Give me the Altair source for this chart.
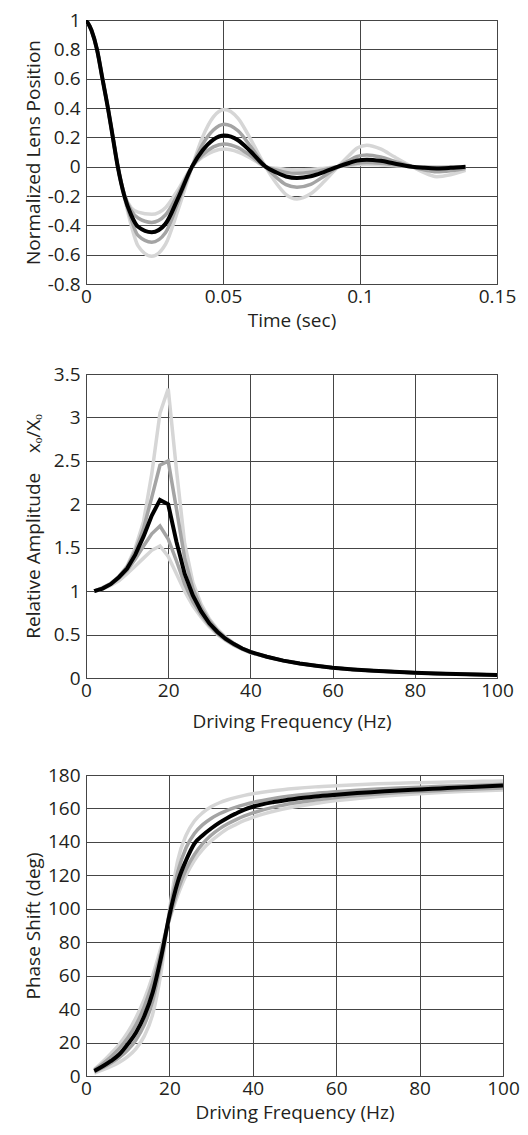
import altair as alt
import pandas as pd

# ---------------- Panel 1: step response ----------------
time_s = [0, 0.002, 0.004, 0.006, 0.008, 0.0098, 0.0116, 0.014, 0.0165, 0.019, 0.024,
          0.029, 0.0335, 0.0387, 0.0425, 0.0465, 0.0505, 0.0555, 0.060, 0.0655, 0.0695,
          0.073, 0.077, 0.082, 0.087, 0.092, 0.096, 0.099, 0.1025, 0.1075, 0.1125, 0.119,
          0.123, 0.128, 0.133, 0.1385]
pos_light_hi = [1.0, 0.93, 0.80, 0.60, 0.40, 0.20, 0.0, -0.21, -0.40, -0.54, -0.61, -0.53, -0.30,
                0.0, 0.20, 0.34, 0.39, 0.33, 0.19, 0.0, -0.115, -0.19, -0.22, -0.185, -0.10, 0.0,
                0.076, 0.127, 0.146, 0.121, 0.067, 0.0, -0.037, -0.068, -0.055, -0.025]
pos_med_hi = [1.0, 0.93, 0.80, 0.60, 0.40, 0.20, 0.0, -0.20, -0.36, -0.47, -0.515, -0.45, -0.25,
              0.0, 0.15, 0.25, 0.29, 0.245, 0.14, 0.0, -0.073, -0.122, -0.14, -0.12, -0.063, 0.0,
              0.042, 0.07, 0.08, 0.066, 0.037, 0.0, -0.02, -0.035, -0.028, -0.012]
pos_black = [1.0, 0.93, 0.80, 0.60, 0.40, 0.20, 0.0, -0.20, -0.33, -0.41, -0.447, -0.39, -0.22,
             0.0, 0.11, 0.185, 0.212, 0.18, 0.105, 0.0, -0.04, -0.067, -0.077, -0.065, -0.035, 0.0,
             0.025, 0.042, 0.048, 0.04, 0.022, 0.0, -0.007, -0.012, -0.008, 0.0]
pos_med_lo = [1.0, 0.93, 0.80, 0.60, 0.40, 0.20, 0.0, -0.19, -0.30, -0.35, -0.38, -0.33, -0.19,
              0.0, 0.08, 0.135, 0.155, 0.13, 0.075, 0.0, -0.023, -0.039, -0.045, -0.038, -0.02, 0.0,
              0.015, 0.024, 0.028, 0.023, 0.013, 0.0, -0.003, -0.006, -0.004, 0.0]
pos_light_lo = [1.0, 0.93, 0.80, 0.60, 0.40, 0.20, 0.0, -0.19, -0.28, -0.31, -0.325, -0.28, -0.16,
                0.0, 0.065, 0.105, 0.12, 0.10, 0.06, 0.0, -0.011, -0.019, -0.022, -0.019, -0.01, 0.0,
                0.008, 0.013, 0.015, 0.012, 0.007, 0.0, -0.002, -0.003, -0.002, 0.0]

# ---------------- Panel 2: relative amplitude ----------------
freq_peak = [2, 4, 6, 8, 10, 12, 14, 16, 18, 20, 22, 24, 26, 28, 30, 32, 34, 36, 38, 40]
amp_light_hi = [1.0, 1.04, 1.09, 1.17, 1.29, 1.5, 1.8, 2.35, 3.05, 3.33, 2.4, 1.55, 1.1, 0.85, 0.68, 0.56, 0.47, 0.40, 0.345, 0.30]
amp_med_hi = [1.0, 1.035, 1.085, 1.165, 1.28, 1.46, 1.72, 2.08, 2.45, 2.5, 1.95, 1.38, 1.03, 0.81, 0.66, 0.545, 0.46, 0.395, 0.34, 0.30]
amp_black = [1.0, 1.03, 1.08, 1.16, 1.26, 1.42, 1.63, 1.87, 2.05, 2.0, 1.57, 1.2, 0.95, 0.77, 0.63, 0.53, 0.45, 0.39, 0.34, 0.30]
amp_med_lo = [1.0, 1.03, 1.075, 1.15, 1.24, 1.37, 1.52, 1.66, 1.75, 1.6, 1.35, 1.08, 0.88, 0.73, 0.61, 0.51, 0.44, 0.38, 0.335, 0.295]
amp_light_lo = [1.0, 1.025, 1.065, 1.12, 1.2, 1.29, 1.38, 1.47, 1.52, 1.4, 1.2, 1.0, 0.83, 0.7, 0.59, 0.5, 0.43, 0.375, 0.33, 0.29]
freq_tail = [44, 48, 52, 56, 60, 65, 70, 75, 80, 85, 90, 95, 100]
amp_tail = [0.245, 0.2, 0.168, 0.142, 0.118, 0.098, 0.083, 0.071, 0.061, 0.053, 0.046, 0.04, 0.035]

# ---------------- Panel 3: phase shift ----------------
freq_phase = [2, 4, 6, 8, 10, 12, 14, 16, 18, 20, 22, 24, 26, 28, 30, 32, 34, 36, 38, 40,
              45, 50, 55, 60, 65, 70, 75, 80, 85, 90, 95, 100]
ph_light_hi = [1.8, 3.7, 5.8, 8.3, 11.6, 16.4, 24, 37, 62, 99, 129, 144, 152.5, 157.5, 161, 163.4,
               165.2, 166.6, 167.8, 168.8, 170.6, 171.9, 172.9, 173.6, 174.2, 174.7, 175.1, 175.4,
               175.7, 176, 176.2, 176.4]
ph_med_hi = [2.4, 4.9, 7.7, 11.1, 15.5, 21.7, 30.7, 45, 68, 97.5, 122, 136.5, 145, 150.3, 154, 156.8,
             159, 160.8, 162.3, 163.6, 166, 167.7, 169, 170, 170.9, 171.6, 172.2, 172.7, 173.2,
             173.6, 174, 174.4]
ph_black = [3, 5.8, 9, 13, 19, 26, 36, 50, 71, 96, 116, 129, 139, 144, 148, 151.5, 154.5, 157,
            159.3, 161, 163.8, 165.7, 167.1, 168.2, 169.2, 170, 170.8, 171.4, 172, 172.6, 173.1, 173.7]
ph_med_lo = [3.6, 7.3, 11.5, 16.5, 22.7, 30.7, 41.7, 56, 74, 94, 111, 123.5, 132.5, 139, 144, 147.8,
             150.8, 153.3, 155.5, 157.3, 160.8, 163.2, 165, 166.5, 167.7, 168.7, 169.5, 170.2, 170.8,
             171.3, 171.8, 172.2]
ph_light_lo = [4, 8.5, 13.5, 19, 26, 35, 46, 60, 77, 93.5, 108, 120, 129, 135.5, 140.5, 144.5, 148,
               150.5, 152.8, 154.7, 158.3, 161, 163, 164.7, 166, 167.1, 168, 168.8, 169.5, 170.1,
               170.6, 171.1]

SHADE = {"light_hi": "light", "light_lo": "light", "med_hi": "med", "med_lo": "med", "black": "black"}
FONT = "Open Sans"
FS = 19
TXT = "#231f20"
GRID = "#454545"
STYLES = [("light", "#d6d6d6", 3.5), ("med", "#a4a4a4", 3.5), ("black", "#000000", 4)]


def long_df(series):
    rows = []
    for name, (xs, ys) in series.items():
        for xv, yv in zip(xs, ys):
            rows.append({"x": xv, "y": yv, "s": name, "shade": SHADE[name]})
    return pd.DataFrame(rows)


def panel(df, xdom, ydom, xvals, yvals, xtitle, ytitle, w, h, interp, xtitle_y):
    yaxis = alt.Axis(values=yvals, grid=True, gridColor=GRID, gridWidth=1, ticks=False, domain=False,
                     labelExpr="toString(datum.value)",
                     labelFont=FONT, labelFontSize=FS, labelColor=TXT, labelPadding=6,
                     labelFlush=False, labelOverlap=False,
                     title=ytitle, titleFont=FONT, titleFontSize=FS, titleFontWeight="normal",
                     titleColor=TXT, titleX=-53, titleY=h / 2, titleAngle=270,
                     titleAlign="center", titleBaseline="middle")
    xaxis = alt.Axis(values=xvals, grid=True, gridColor=GRID, gridWidth=1, ticks=False, domain=False,
                     labelExpr="toString(datum.value)",
                     labelFont=FONT, labelFontSize=FS, labelColor=TXT, labelPadding=3,
                     labelFlush=False, labelOverlap=False,
                     title=xtitle, titleFont=FONT, titleFontSize=FS, titleFontWeight="normal",
                     titleColor=TXT, titleY=xtitle_y, titleBaseline="middle")
    layers = []
    for sh, color, sw in STYLES:
        layers.append(
            alt.Chart(df)
            .transform_filter(alt.datum.shade == sh)
            .mark_line(color=color, strokeWidth=sw, interpolate=interp, clip=True)
            .encode(
                x=alt.X("x:Q", scale=alt.Scale(domain=xdom, nice=False, zero=False), axis=xaxis),
                y=alt.Y("y:Q", scale=alt.Scale(domain=ydom, nice=False, zero=False), axis=yaxis),
                detail="s:N",
            )
        )
    return alt.layer(*layers).properties(width=w, height=h)


df1 = long_df({
    "light_hi": (time_s, pos_light_hi), "med_hi": (time_s, pos_med_hi), "black": (time_s, pos_black),
    "med_lo": (time_s, pos_med_lo), "light_lo": (time_s, pos_light_lo),
})
df2 = long_df({
    "light_hi": (freq_peak + freq_tail, amp_light_hi + amp_tail),
    "med_hi": (freq_peak + freq_tail, amp_med_hi + amp_tail),
    "black": (freq_peak + freq_tail, amp_black + amp_tail),
    "med_lo": (freq_peak + freq_tail, amp_med_lo + amp_tail),
    "light_lo": (freq_peak + freq_tail, amp_light_lo + amp_tail),
})
df3 = long_df({
    "light_hi": (freq_phase, ph_light_hi), "med_hi": (freq_phase, ph_med_hi),
    "black": (freq_phase, ph_black), "med_lo": (freq_phase, ph_med_lo),
    "light_lo": (freq_phase, ph_light_lo),
})

NB = "\u00a0"
p1 = panel(df1, [0, 0.15], [-0.8, 1], [0, 0.05, 0.1, 0.15],
           [-0.8, -0.6, -0.4, -0.2, 0, 0.2, 0.4, 0.6, 0.8, 1],
           "Time (sec)", "Normalized Lens Position", 411, 264, "monotone", 36)
p2 = panel(df2, [0, 100], [0, 3.5], [0, 20, 40, 60, 80, 100],
           [0, 0.5, 1, 1.5, 2, 2.5, 3, 3.5],
           "Driving Frequency (Hz)", "Relative Amplitude" + NB * 4 + "xₒ/Xₒ", 411, 304, "linear", 43)
p3 = panel(df3, [0, 100], [0, 180], [0, 20, 40, 60, 80, 100],
           [0, 20, 40, 60, 80, 100, 120, 140, 160, 180],
           "Driving Frequency (Hz)", "Phase Shift (deg)", 417, 301, "monotone", 36)

chart = (
    alt.vconcat(p1, p2, p3, spacing=33)
    .properties(padding={"left": 15, "top": 2, "right": 0, "bottom": 0})
    .configure_view(stroke="#333333", strokeWidth=1)
)

chart.save("out.html", embed_options={"renderer": "svg", "actions": False})
